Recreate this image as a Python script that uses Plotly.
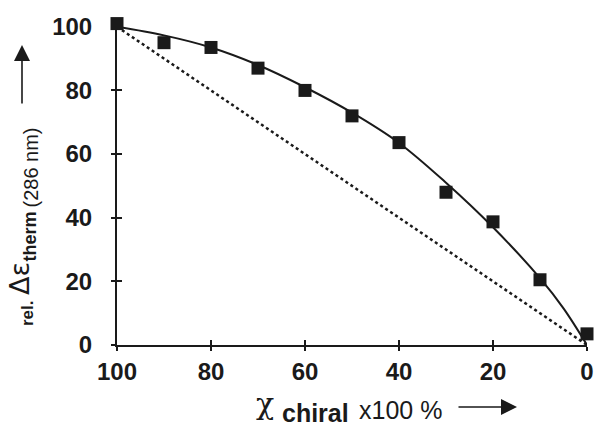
import plotly.graph_objects as go

x_data = [100, 90, 80, 70, 60, 50, 40, 30, 20, 10, 0]
y_data = [101, 95, 93.5, 87, 80, 72, 63.6, 48, 38.7, 20.5, 3.5]
x_fit = [100, 90, 80, 70, 60, 50, 40, 30, 20, 10, 5, 0]
y_fit = [100, 97.3, 93.5, 88, 81, 73, 63.5, 51, 37, 21, 11.5, 0]
x_lin = [100, 0]
y_lin = [100, 0]
ticks = [0, 20, 40, 60, 80, 100]

ink = "#1a1a1a"
L, R, T, B, W, H = 117, 13, 22, 79, 600, 424
PW, PH = W - L - R, H - T - B


def px(x):
    return (x - L) / PW


def py(y):
    return (H - B - y) / PH


fig = go.Figure()
fig.add_trace(go.Scatter(x=x_lin, y=y_lin, mode="lines",
                         line=dict(color=ink, width=2.5, dash="dot"), cliponaxis=False))
fig.add_trace(go.Scatter(x=x_fit, y=y_fit, mode="lines", line_shape="spline",
                         line=dict(color=ink, width=2), cliponaxis=False))
fig.add_trace(go.Scatter(x=x_data, y=y_data, mode="markers",
                         marker=dict(symbol="square", size=13, color=ink), cliponaxis=False))

tickfont = dict(family="Liberation Sans, Arial", size=24, color=ink, weight="bold")
common = dict(tickvals=ticks, tickwidth=2, tickcolor=ink, showgrid=False, zeroline=False,
              automargin=False)
fig.update_layout(
    width=W, height=H, paper_bgcolor="white", plot_bgcolor="white", autosize=False,
    margin=dict(l=L, r=R, t=T, b=B, autoexpand=False), showlegend=False,
    xaxis=dict(range=[100, 0], ticks="outside", ticklen=4, showline=True, linecolor=ink,
               linewidth=2, tickfont=tickfont, ticklabelstandoff=0, **common),
    yaxis=dict(range=[0, 101.5], ticks="outside", ticklen=4, showline=True, linecolor=ink,
               linewidth=2, tickfont=tickfont, ticklabelstandoff=14, **common),
    xaxis2=dict(range=[100, 0], ticks="inside", ticklen=5, showticklabels=False,
                overlaying="x", showline=False, **common),
    yaxis2=dict(range=[0, 101.5], ticks="inside", ticklen=5, showticklabels=False,
                overlaying="y", showline=False, **common),
)
fig.add_trace(go.Scatter(x=[None], y=[None], xaxis="x2", yaxis="y2", showlegend=False))

sans = "Liberation Sans, Arial"


def label(text, cx, cy, size, family=sans, weight="normal", angle=0):
    fig.add_annotation(xref="paper", yref="paper", x=px(cx), y=py(cy), text=text,
                       textangle=angle, showarrow=False, xanchor="center", yanchor="middle",
                       font=dict(family=family, size=size, color=ink, weight=weight))


# y-axis title pieces (rotated)
label("rel.", 27, 313, 17, weight="bold", angle=-90)
label("Δε", 19, 279, 27, family="DejaVu Sans", angle=-90)
label("therm", 29.5, 237, 18, weight="bold", angle=-90)
label("(286 nm)", 30.5, 168, 20, angle=-90)

# x-axis title pieces
label("χ", 265, 404, 30, family="DejaVu Serif")
label("chiral", 315, 413, 25, weight="bold")
label("x100 %", 400, 410, 25)

# arrows
fig.add_annotation(xref="paper", yref="paper", x=px(22), y=py(45), text="",
                   showarrow=True, ax=0, ay=60, arrowhead=2, arrowsize=2.0,
                   arrowwidth=1.6, arrowcolor=ink)
fig.add_annotation(xref="paper", yref="paper", x=px(517), y=py(407), text="",
                   showarrow=True, ax=-60, ay=0, arrowhead=2, arrowsize=2.0,
                   arrowwidth=1.6, arrowcolor=ink)

fig.write_html("out.html", config={"displayModeBar": False, "responsive": False},
               post_script="document.body.style.margin='0';document.body.style.overflow='hidden';")
